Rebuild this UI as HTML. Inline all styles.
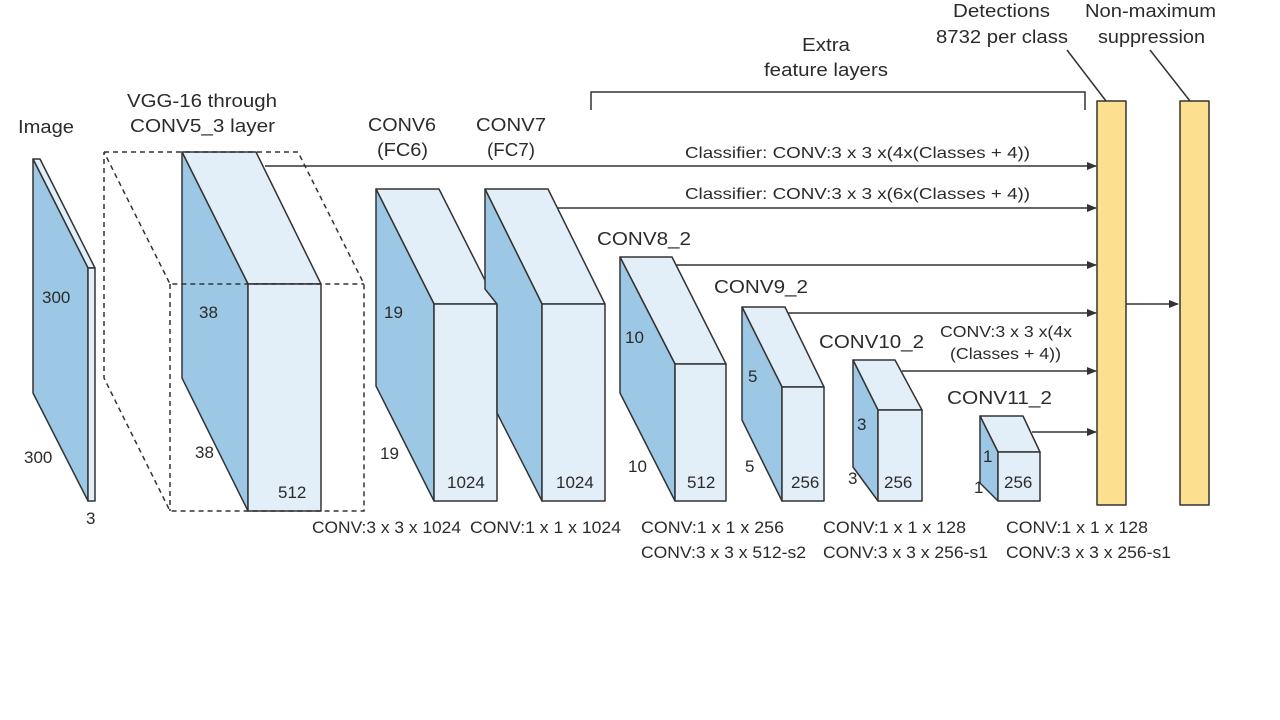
<!DOCTYPE html>
<html><head><meta charset="utf-8"><style>
html,body{margin:0;padding:0;background:#fff;}
svg{display:block;}
text{font-family:"Liberation Sans",sans-serif;fill:#2b2b2b;}
</style></head><body>
<svg width="1280" height="720" viewBox="0 0 1280 720" xmlns="http://www.w3.org/2000/svg">
<defs>
<marker id="a" markerWidth="10" markerHeight="8" refX="9" refY="4" orient="auto" markerUnits="userSpaceOnUse">
<path d="M0,0 L10,4 L0,8 z" fill="#333"/></marker>
</defs>
<g stroke="#333" stroke-width="1.5" fill="none">
<line x1="265" y1="166" x2="1096" y2="166" marker-end="url(#a)"/>
<line x1="557" y1="208" x2="1096" y2="208" marker-end="url(#a)"/>
<line x1="675" y1="265" x2="1096" y2="265" marker-end="url(#a)"/>
<line x1="785" y1="313" x2="1096" y2="313" marker-end="url(#a)"/>
<line x1="902" y1="371" x2="1096" y2="371" marker-end="url(#a)"/>
<line x1="1032" y1="432" x2="1096" y2="432" marker-end="url(#a)"/>
<line x1="1126" y1="304" x2="1178" y2="304" marker-end="url(#a)"/>
<polyline points="591,110 591,92 1085,92 1085,110"/>
<line x1="1067" y1="50" x2="1106" y2="101"/>
<line x1="1150" y1="50" x2="1190" y2="101"/>
</g>
<g stroke="#333" stroke-width="1.5" stroke-linejoin="round">
<polygon points="33,159 40,159 95,268 88,268" fill="#e2eef8"/>
<polygon points="33,159 88,268 88,501 33,393" fill="#9cc8e6"/>
<rect x="88" y="268" width="7" height="233" fill="#e2eef8"/>
<polygon points="182,152 256,152 321,284 248,284" fill="#e2eef8"/>
<polygon points="182,152 248,284 248,511 182,378" fill="#9cc8e6"/>
<rect x="248" y="284" width="73" height="227" fill="#e2eef8"/>
<polygon points="376,189 439,189 497,304 434,304" fill="#e2eef8"/>
<polygon points="376,189 434,304 434,501 376,386" fill="#9cc8e6"/>
<rect x="434" y="304" width="63" height="197" fill="#e2eef8"/>
<polygon points="485,189 548,189 605,304 542,304" fill="#e2eef8"/>
<polygon points="485,189 542,304 542,501 497,413 497,304 485,289" fill="#9cc8e6"/>
<rect x="542" y="304" width="63" height="197" fill="#e2eef8"/>
<polygon points="620,257 672,257 726,364 675,364" fill="#e2eef8"/>
<polygon points="620,257 675,364 675,501 620,393" fill="#9cc8e6"/>
<rect x="675" y="364" width="51" height="137" fill="#e2eef8"/>
<polygon points="742,307 785,307 824,387 782,387" fill="#e2eef8"/>
<polygon points="742,307 782,387 782,501 742,420" fill="#9cc8e6"/>
<rect x="782" y="387" width="42" height="114" fill="#e2eef8"/>
<polygon points="853,360 895,360 922,410 878,410" fill="#e2eef8"/>
<polygon points="853,360 878,410 878,501 853,467" fill="#9cc8e6"/>
<rect x="878" y="410" width="44" height="91" fill="#e2eef8"/>
<polygon points="980,416 1023,416 1040,452 998,452" fill="#e2eef8"/>
<polygon points="980,416 998,452 998,501 980,483" fill="#9cc8e6"/>
<rect x="998" y="452" width="42" height="49" fill="#e2eef8"/>
<rect x="1097" y="101" width="29" height="404" fill="#fde08f"/>
<rect x="1180" y="101" width="29" height="404" fill="#fde08f"/>
</g>
<g stroke="#333" stroke-width="1.5" fill="none" stroke-dasharray="5,4">
<polyline points="104,152 298,152 364,284 364,511 170,511 104,378 104,152 170,284 364,284"/>
<line x1="170" y1="284" x2="170" y2="511"/>
</g>
<g font-size="18">
<text x="18" y="133" textLength="56" lengthAdjust="spacingAndGlyphs">Image</text>
<text x="127" y="107" textLength="150" lengthAdjust="spacingAndGlyphs">VGG-16 through</text>
<text x="130" y="132" textLength="145" lengthAdjust="spacingAndGlyphs">CONV5_3 layer</text>
<text x="368" y="131" textLength="68" lengthAdjust="spacingAndGlyphs">CONV6</text>
<text x="377" y="156" textLength="51" lengthAdjust="spacingAndGlyphs">(FC6)</text>
<text x="476" y="131" textLength="70" lengthAdjust="spacingAndGlyphs">CONV7</text>
<text x="487" y="156" textLength="48" lengthAdjust="spacingAndGlyphs">(FC7)</text>
<text x="597" y="245" textLength="94" lengthAdjust="spacingAndGlyphs">CONV8_2</text>
<text x="714" y="293" textLength="94" lengthAdjust="spacingAndGlyphs">CONV9_2</text>
<text x="819" y="348" textLength="105" lengthAdjust="spacingAndGlyphs">CONV10_2</text>
<text x="947" y="404" textLength="105" lengthAdjust="spacingAndGlyphs">CONV11_2</text>
<text x="802" y="51" textLength="48" lengthAdjust="spacingAndGlyphs">Extra</text>
<text x="764" y="76" textLength="124" lengthAdjust="spacingAndGlyphs">feature layers</text>
<text x="953" y="17" textLength="97" lengthAdjust="spacingAndGlyphs">Detections</text>
<text x="936" y="43" textLength="132" lengthAdjust="spacingAndGlyphs">8732 per class</text>
<text x="1085" y="17" textLength="131" lengthAdjust="spacingAndGlyphs">Non-maximum</text>
<text x="1098" y="43" textLength="107" lengthAdjust="spacingAndGlyphs">suppression</text>
</g>
<g font-size="16">
<text x="685" y="158" textLength="345" lengthAdjust="spacingAndGlyphs">Classifier: CONV:3 x 3 x(4x(Classes + 4))</text>
<text x="685" y="199" textLength="345" lengthAdjust="spacingAndGlyphs">Classifier: CONV:3 x 3 x(6x(Classes + 4))</text>
<text x="940" y="337" textLength="132" lengthAdjust="spacingAndGlyphs">CONV:3 x 3 x(4x</text>
<text x="950" y="359" textLength="111" lengthAdjust="spacingAndGlyphs">(Classes + 4))</text>
</g>
<g font-size="17">
<text x="42" y="303">300</text>
<text x="24" y="463">300</text>
<text x="86" y="524">3</text>
<text x="199" y="318">38</text>
<text x="195" y="458">38</text>
<text x="278" y="498">512</text>
<text x="384" y="318">19</text>
<text x="380" y="459">19</text>
<text x="447" y="488">1024</text>
<text x="556" y="488">1024</text>
<text x="625" y="343">10</text>
<text x="628" y="472">10</text>
<text x="687" y="488">512</text>
<text x="748" y="382">5</text>
<text x="745" y="472">5</text>
<text x="791" y="488">256</text>
<text x="857" y="430">3</text>
<text x="848" y="484">3</text>
<text x="884" y="488">256</text>
<text x="983" y="462">1</text>
<text x="974" y="493">1</text>
<text x="1004" y="488">256</text>
<text x="312" y="533" textLength="149" lengthAdjust="spacingAndGlyphs">CONV:3 x 3 x 1024</text>
<text x="470" y="533" textLength="151" lengthAdjust="spacingAndGlyphs">CONV:1 x 1 x 1024</text>
<text x="641" y="533" textLength="143" lengthAdjust="spacingAndGlyphs">CONV:1 x 1 x 256</text>
<text x="641" y="558" textLength="165" lengthAdjust="spacingAndGlyphs">CONV:3 x 3 x 512-s2</text>
<text x="823" y="533" textLength="143" lengthAdjust="spacingAndGlyphs">CONV:1 x 1 x 128</text>
<text x="823" y="558" textLength="165" lengthAdjust="spacingAndGlyphs">CONV:3 x 3 x 256-s1</text>
<text x="1006" y="533" textLength="142" lengthAdjust="spacingAndGlyphs">CONV:1 x 1 x 128</text>
<text x="1006" y="558" textLength="165" lengthAdjust="spacingAndGlyphs">CONV:3 x 3 x 256-s1</text>
</g>
</svg>
</body></html>
